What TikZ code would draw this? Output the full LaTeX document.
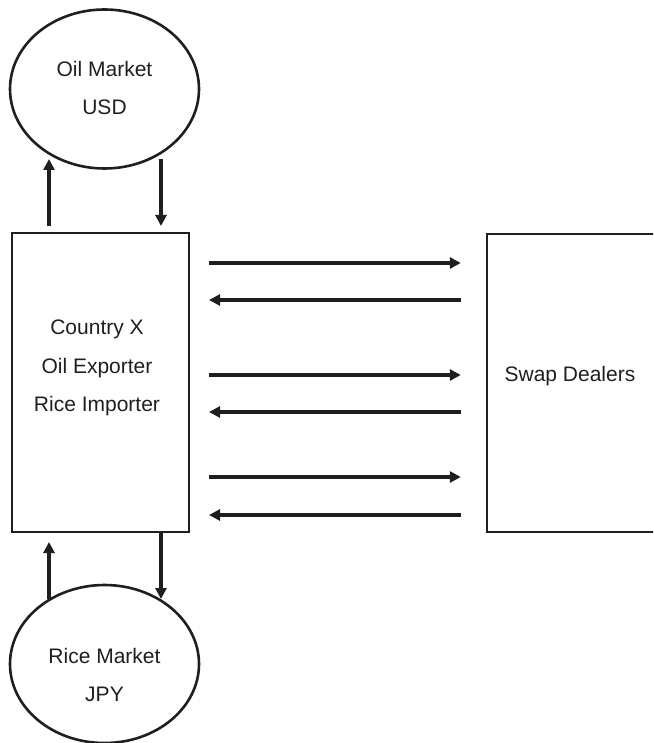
\documentclass[tikz,border=0pt]{standalone}
\usepackage{fontspec}
\setmainfont{Liberation Sans}
\usetikzlibrary{shapes.geometric,arrows.meta,calc}
\begin{document}
\begin{tikzpicture}[x=1pt,y=-1pt,
  ink/.style={draw=black!88},
  mkt/.style={ellipse,ink,line width=2.6pt,inner sep=0pt},
  boxy/.style={rectangle,ink,line width=2pt,inner sep=0pt},
  lbl/.style={font=\fontsize{21}{38.5}\selectfont,align=center,text=black!88},
  arr/.style={black!88,line width=3.4pt,-{Triangle[length=11pt,width=11pt]}}]
\useasboundingbox (0,0) rectangle (653,743);
\clip (0,0) rectangle (653,743);
% markets
\node[mkt,minimum width=189pt,minimum height=159pt] (oil) at (104.5,89) {};
\node[lbl] (oiltxt) at (104.5,88) {Oil Market\\USD};
\node[mkt,minimum width=189pt,minimum height=158pt] (rice) at (104.5,664) {};
\node[lbl] (ricetxt) at (104.5,675) {Rice Market\\JPY};
% country box
\node[boxy,minimum width=177pt,minimum height=299pt] (country) at (100.5,382.5) {};
\node[lbl] (ctxt) at (97,368) {Country X\\Oil Exporter\\Rice Importer};
% swap dealers box (its right side lies beyond the picture)
\node[rectangle,inner sep=0pt,minimum width=240pt,minimum height=298pt] (swap) at (607,383) {};
\draw[black!88,line width=2pt] (swap.north east) -- (swap.north west) -- (swap.south west) -- (swap.south east);
\node[lbl] (stxt) at (570,376) {Swap Dealers};
% vertical arrows
\draw[arr] ($(country.north west)+(38,-6)$) -- ($(country.north west)+(38,-73)$);
\draw[arr] ($(country.north west)+(150,-73)$) -- ($(country.north west)+(150,-6)$);
\draw[arr] ($(country.south west)+(38,66)$) -- ($(country.south west)+(38,9)$);
\draw[arr] ($(country.south west)+(150,0)$) -- ($(country.south west)+(150,66)$);
% horizontal arrows
\foreach \yy in {263,375,477}
  \draw[arr] ($(country.east |- 0,\yy)+(19,0)$) -- ($(swap.west |- 0,\yy)+(-26,0)$);
\foreach \yy in {300,412,515}
  \draw[arr] ($(swap.west |- 0,\yy)+(-26,0)$) -- ($(country.east |- 0,\yy)+(19,0)$);
\end{tikzpicture}
\end{document}
